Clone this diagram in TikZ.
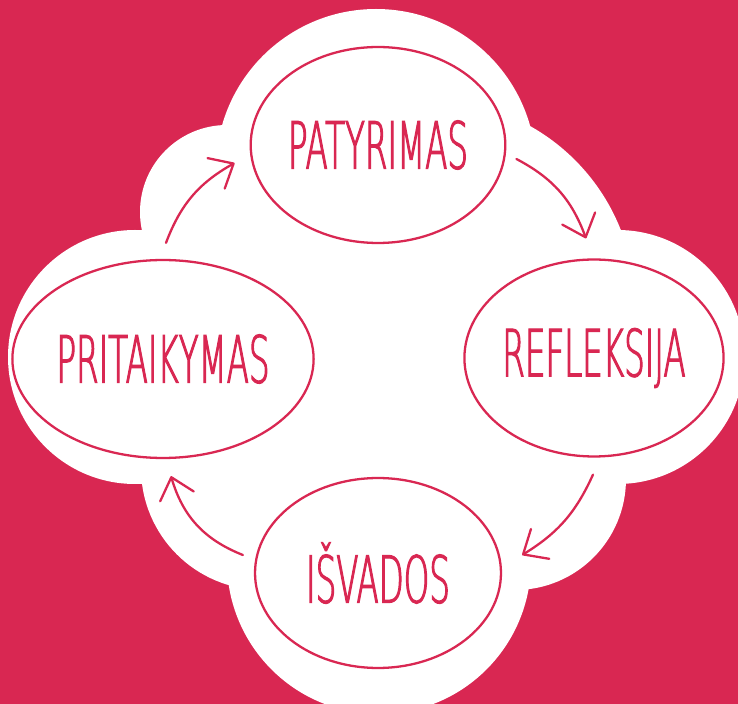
\documentclass[tikz,border=0pt]{standalone}
\usepackage{fontspec}
\usetikzlibrary{shapes.geometric,arrows.meta,calc}
\newfontfamily\handfont[FakeStretch=0.5,FakeBold=1.6]{DejaVu Sans ExtraLight}
\definecolor{bgred}{RGB}{217,39,82}

\begin{document}
\begin{tikzpicture}[x=0.02cm, y=0.02cm,
  bubble/.style={draw=bgred, ellipse, line width=1.3pt, inner sep=0pt, text=bgred, font=\handfont\fontsize{37}{37}\selectfont},
  arr/.style={draw=bgred, line width=1.3pt, line cap=round, -{Straight Barb[length=4mm,width=7mm,round]}}
]
\useasboundingbox (0,0) rectangle (738,704);
\fill[bgred] (0,0) rectangle (738,704);
\fill[white] (376,535) circle (160) (227,492) circle (87) (430,399) circle (205) (135,347) circle (127)
  (263,236) circle (122) (379,142) circle (152) (515,225) circle (111) (617.5,347) circle (127);
\fill[white] (227,492) -- (376,535) -- (430,399) -- (617,347) -- (515,225) -- (379,142) -- (263,236) -- (135,347) -- cycle;

\node[bubble, minimum width=5cm, minimum height=3.92cm] (pat) at (378,559) {PATYRIMAS};
\node[bubble, minimum width=5.04cm, minimum height=3.94cm] (ref) at (594,346) {REFLEKSIJA};
\node[bubble, minimum width=4.92cm, minimum height=3.8cm] (isv) at (378,131) {IŠVADOS};
\node[bubble, minimum width=5cm, minimum height=3.96cm] (prit) at (163,345) {PRITAIKYMAS};

\draw[arr] ([shift={(3,16)}]prit.north) to[bend left=20] ([shift={(-15,-18)}]pat.west);
\draw[arr] ([shift={(10,-14)}]pat.east) to[bend left=21] ([shift={(-8,20)}]ref.north);
\draw[arr] ([shift={(-1,-17)}]ref.south) to[bend left=17] ([shift={(20,18)}]isv.east);
\draw[arr] ([shift={(-11,18)}]isv.west) to[bend left=26] ([shift={(8,-17)}]prit.south);
\end{tikzpicture}
\end{document}
